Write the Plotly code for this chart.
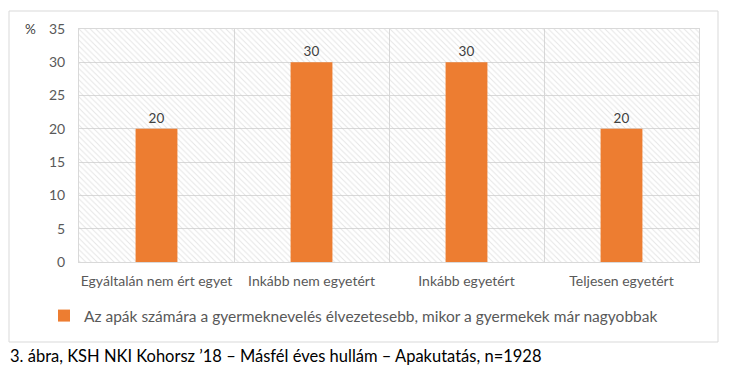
import plotly.graph_objects as go

categories = ["Egyáltalán nem ért egyet", "Inkább nem egyetért", "Inkább egyetért", "Teljesen egyetért"]
values = [20, 30, 30, 20]
series_name = "Az apák számára a gyermeknevelés élvezetesebb, mikor a gyermekek már nagyobbak"
y_ticks = [0, 5, 10, 15, 20, 25, 30, 35]
caption = "3. ábra, KSH NKI Kohorsz ’18 – Másfél éves hullám – Apakutatás, n=1928"

FONT = "Lato"
OFF = 8  # page body margin
W, H = 731 - 2 * OFF, 377 - 2 * OFF
# plot area in screen coordinates
SL, SR, ST, SB = 79, 699, 29, 262
L, T = SL - OFF, ST - OFF
R = W - (SR - OFF)
B = H - (SB - OFF)


def px(x):
    return (x - SL) / (SR - SL)


def py(y):
    return (SB - y) / (SB - ST)


fig = go.Figure()

# hatched plot-area background
fig.add_trace(go.Bar(
    x=categories, y=[max(y_ticks)] * len(categories), width=1,
    marker=dict(color="rgba(0,0,0,0)", line=dict(width=0),
                pattern=dict(shape="\\", fgcolor="#cccccc", bgcolor="rgba(0,0,0,0)",
                             size=4, solidity=0.25, fillmode="overlay")),
    showlegend=False, hoverinfo="skip"))

fig.add_trace(go.Bar(
    x=categories, y=values, name=series_name, marker=dict(color="#ED7D31", line=dict(width=0)),
    width=0.27, text=values, textposition="outside", cliponaxis=False,
    textfont=dict(family=FONT, size=13.5, color="#404040")))

fig.update_layout(
    width=W, height=H,
    margin=dict(l=L, r=R, t=T, b=B, autoexpand=False),
    paper_bgcolor="white", plot_bgcolor="white",
    font=dict(family=FONT, color="#595959"),
    barmode="overlay",
    xaxis=dict(type="category", tickson="boundaries", showgrid=True,
               gridcolor="#d9d9d9", gridwidth=1, showline=True, linecolor="#d9d9d9", mirror=True,
               ticks="", tickangle=0, ticklabelstandoff=6,
               tickfont=dict(family=FONT, size=14, color="#595959"),
               zeroline=False),
    yaxis=dict(range=[0, max(y_ticks)], tickvals=y_ticks, showgrid=True, gridcolor="#d9d9d9",
               gridwidth=1, showline=True, linecolor="#d9d9d9", mirror=True, zeroline=False,
               ticks="", ticklabelstandoff=10,
               tickfont=dict(family=FONT, size=14, color="#595959")),
    showlegend=True,
    legend=dict(orientation="h", x=px(44), xanchor="left", y=py(316), yanchor="middle",
                font=dict(family=FONT, size=15.5, color="#595959"), bgcolor="rgba(0,0,0,0)"),
)

fig.add_annotation(text="%", xref="paper", yref="paper", x=px(30), y=py(29), xanchor="center", yanchor="middle",
                   showarrow=False, font=dict(family=FONT, size=13.5, color="#404040"))
fig.add_annotation(text=caption, xref="paper", yref="paper", x=px(8), y=py(356), xanchor="left", yanchor="middle",
                   showarrow=False, font=dict(family=FONT, size=16.5, color="#000000"))
fig.add_shape(type="rect", xref="paper", yref="paper", x0=px(9), x1=px(718), y0=py(342), y1=py(11),
              line=dict(color="#d9d9d9", width=1), fillcolor="rgba(0,0,0,0)", layer="below")

fig.write_html("out.html")
